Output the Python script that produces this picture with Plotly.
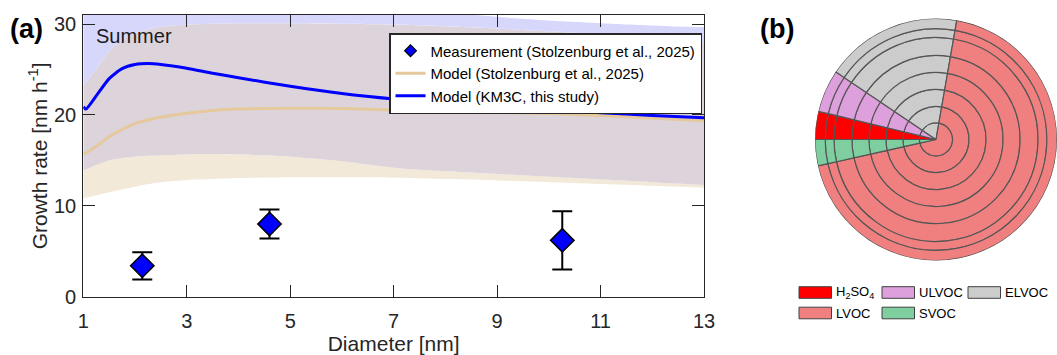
import plotly.graph_objects as go

W, H = 1057, 355
FONT = "Liberation Sans, Arial, sans-serif"
AX = "#262626"

# ---------------- panel (a): growth rate vs diameter ----------------
diam = [1, 1.05, 1.25, 1.5, 1.75, 2, 2.25, 2.5, 3, 3.5, 4, 5, 6, 7, 8, 9, 10, 11, 12, 13]

gr_km3c = [20.9, 20.65, 22.1, 24.0, 25.1, 25.55, 25.65, 25.55, 25.15, 24.6, 24.1,
           23.15, 22.35, 21.75, 21.3, 20.95, 20.6, 20.25, 19.95, 19.7]
gr_km3c_lo = [13.9, 14.0, 14.5, 15.0, 15.25, 15.4, 15.5, 15.55, 15.65, 15.7, 15.65,
              15.4, 14.9, 14.2, 13.8, 13.5, 13.2, 12.9, 12.6, 12.3]
gr_km3c_hi = [33.0, 33.2, 34.0, 35.0, 35.5, 35.8, 35.8, 35.6, 35.2, 34.8, 34.4,
              33.6, 32.8, 32.0, 31.3, 30.8, 30.4, 30.1, 29.85, 29.65]

gr_stolz = [15.75, 15.8, 16.55, 17.6, 18.4, 19.05, 19.45, 19.75, 20.2, 20.5, 20.65,
            20.75, 20.7, 20.55, 20.45, 20.3, 20.15, 19.95, 19.65, 19.35]
gr_stolz_lo = [10.85, 10.9, 11.15, 11.5, 11.8, 12.1, 12.4, 12.6, 12.85, 12.95, 13.05,
               13.15, 13.15, 13.1, 12.95, 12.8, 12.6, 12.4, 12.2, 12.0]
gr_stolz_hi = [23.3, 23.6, 25.0, 27.0, 28.3, 29.0, 29.4, 29.7, 29.95, 30.05, 30.1,
               30.1, 30.05, 29.95, 29.75, 29.5, 29.2, 28.85, 28.4, 27.9]

meas_diam = [2.14, 4.6, 10.26]
meas_gr = [3.4, 8.0, 6.2]
meas_err = [1.5, 1.6, 3.2]

x_ticks = [1, 3, 5, 7, 9, 11, 13]
y_ticks = [0, 10, 20, 30]

# ---------------- panel (b): composition pie ----------------
species = ["H<sub>2</sub>SO<sub>4</sub>", "ULVOC", "ELVOC", "LVOC", "SVOC"]
fractions = [3.75, 5.7, 18.3, 68.75, 3.5]
species_colors = ["#FF0000", "#DDA0DD", "#CCCCCC", "#F08080", "#7ECEA0"]
ring_edges = [0, 0.137, 0.273, 0.414, 0.554, 0.695, 0.843, 0.916, 1.0]

C_BLUE_BAND = "rgb(215,215,251)"
C_OVERLAP = "rgb(221,211,219)"
C_TAN_BAND = "rgb(243,233,217)"
C_TAN = "rgb(229,200,155)"


def px(x):
    return x / W


def py(y):
    return 1 - y / H


fig = go.Figure()

# uncertainty ranges of the two models (lower tan, overlap, upper blue)
band_kw = dict(x=diam, mode="lines", line=dict(width=0, shape="spline", smoothing=0.6),
               hoverinfo="skip", showlegend=False)
fig.add_trace(go.Scatter(y=gr_stolz_lo, **band_kw))
fig.add_trace(go.Scatter(y=gr_km3c_lo, fill="tonexty", fillcolor=C_TAN_BAND, **band_kw))
fig.add_trace(go.Scatter(y=gr_stolz_hi, fill="tonexty", fillcolor=C_OVERLAP, **band_kw))
fig.add_trace(go.Scatter(y=gr_km3c_hi, fill="tonexty", fillcolor=C_BLUE_BAND, **band_kw))

# measurements
fig.add_trace(go.Scatter(
    x=meas_diam, y=meas_gr, mode="markers", showlegend=False,
    marker=dict(symbol="diamond", size=18, color="#0000FF", line=dict(color="black", width=1.5)),
    error_y=dict(type="data", array=meas_err, visible=True, color="black", thickness=2, width=10),
))
# legend entry for the measurements (smaller symbol)
fig.add_trace(go.Scatter(
    x=[None], y=[None], mode="markers", name="Measurement (Stolzenburg et al., 2025)",
    marker=dict(symbol="diamond", size=9, color="#0000FF", line=dict(color="black", width=1.2)),
))

fig.add_trace(go.Scatter(x=diam, y=gr_stolz, mode="lines", name="Model (Stolzenburg et al., 2025)",
                         line=dict(color=C_TAN, width=3, shape="spline", smoothing=0.6)))
fig.add_trace(go.Scatter(x=diam, y=gr_km3c, mode="lines", name="Model (KM3C, this study)",
                         line=dict(color="#0000FF", width=3, shape="spline", smoothing=0.6)))

# composition rings
start = 0.0
for name, frac, col in zip(species, fractions, species_colors):
    span = frac * 3.6
    fig.add_trace(go.Barpolar(
        r=[ring_edges[i + 1] - ring_edges[i] for i in range(len(ring_edges) - 1)],
        base=ring_edges[:-1],
        theta=[start + span / 2] * (len(ring_edges) - 1),
        width=span,
        marker=dict(color=col, line=dict(color="#555555", width=1.2)),
        name=name, showlegend=False, hoverinfo="name",
    ))
    start += span

axis_common = dict(showline=True, linecolor=AX, linewidth=1.3, mirror="ticks",
                   ticks="inside", ticklen=12, tickwidth=1.3, tickcolor=AX,
                   showgrid=False, zeroline=False,
                   tickfont=dict(family=FONT, size=20, color=AX),
                   title_font=dict(family=FONT, size=21, color=AX))

fig.update_layout(
    width=W, height=H,
    margin=dict(l=0, r=0, t=0, b=0, autoexpand=False),
    paper_bgcolor="white", plot_bgcolor="white",
    font=dict(family=FONT, color=AX),
    xaxis=dict(domain=[px(83.3), px(704)], range=[1, 13], tickvals=x_ticks,
               title=dict(text="Diameter [nm]", standoff=4), ticklabelstandoff=6,
               automargin=False, **axis_common),
    yaxis=dict(domain=[py(296.7), py(15)], range=[0, 31], tickvals=y_ticks,
               title=dict(text="Growth rate [nm h<sup>-1</sup>]", standoff=0), ticklabelstandoff=2,
               automargin=False, **axis_common),
    legend=dict(x=px(389), y=py(33), xanchor="left", yanchor="top",
                bgcolor="white", bordercolor=AX, borderwidth=1.5,
                font=dict(family=FONT, size=15, color="black"),
                tracegroupgap=0, itemwidth=30, traceorder="normal"),
    polar=dict(domain=dict(x=[px(815), 1.0], y=[py(260.5), py(18.5)]),
               bgcolor="rgba(0,0,0,0)", hole=0, barmode="overlay", bargap=0,
               radialaxis=dict(range=[0, 1], visible=False, showgrid=False),
               angularaxis=dict(visible=False, direction="clockwise", rotation=180,
                                showgrid=False)),
)

annotations = [
    dict(text="<b>(a)</b>", x=px(8), y=py(29), xanchor="left", yanchor="middle",
         font=dict(family=FONT, size=27, color="black")),
    dict(text="<b>(b)</b>", x=px(758), y=py(29), xanchor="left", yanchor="middle",
         font=dict(family=FONT, size=27, color="black")),
    dict(text="Summer", x=px(94), y=py(36), xanchor="left", yanchor="middle",
         font=dict(family=FONT, size=20, color="#1a1a1a")),
]

# legend of the composition panel: 3 columns, filled row by row
col_x = [799, 882, 968]
row_y = [292.5, 313]
shapes = []
for k, (name, col) in enumerate(zip(species, species_colors)):
    cx = col_x[k % 3]
    cy = row_y[k // 3]
    shapes.append(dict(type="rect", xref="paper", yref="paper",
                       x0=px(cx), x1=px(cx + 32.5), y0=py(cy + 5.8), y1=py(cy - 5.8),
                       fillcolor=col, line=dict(color="#404040", width=1)))
    annotations.append(dict(text=name, x=px(cx + 34.5), y=py(cy), xanchor="left",
                            yanchor="middle", font=dict(family=FONT, size=13, color="black")))

for a in annotations:
    a.update(xref="paper", yref="paper", showarrow=False)
fig.update_layout(annotations=annotations, shapes=shapes)

fig.write_html("out.html")
